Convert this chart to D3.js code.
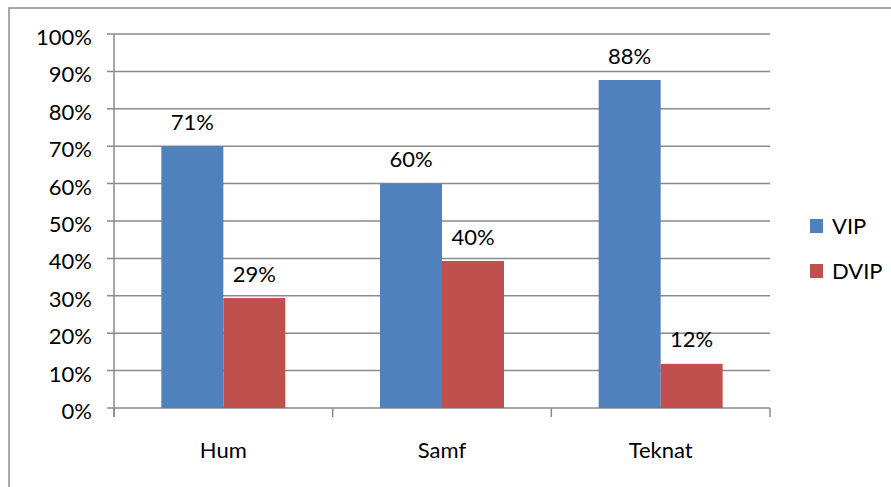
<!DOCTYPE html>
<html><head><meta charset="utf-8">
<script src="https://cdn.jsdelivr.net/npm/d3@7"></script>
<style>body{margin:0;background:#fff}svg{display:block}text{font-family:Lato,"Open Sans",sans-serif;fill:#000}</style>
</head><body><svg id="c" width="891" height="487"></svg>
<script>
const categories = ["Hum", "Samf", "Teknat"];
const seriesNames = ["VIP", "DVIP"];
const vipValues = [0.70, 0.60, 0.877];
const dvipValues = [0.294, 0.393, 0.118];
const vipLabels = ["71%", "60%", "88%"];
const dvipLabels = ["29%", "40%", "12%"];
const yTicks = [0, 0.1, 0.2, 0.3, 0.4, 0.5, 0.6, 0.7, 0.8, 0.9, 1.0];
const colors = ["#4f81bd", "#c0504d"];

(function () {
const svg = d3.select("#c");
const gridColor = "#8a8a8a";
const fs = 22;
svg.append("rect").attr("x", 9).attr("y", 8).attr("width", 900).attr("height", 500)
  .attr("fill", "none").attr("stroke", gridColor).attr("stroke-width", 1.5);

const pl = 114, pr = 770, pt = 34, pb = 408;
const x = d3.scaleBand().domain(categories).range([pl, pr]).paddingInner(0.433).paddingOuter(0.2165);
const x0 = d3.scaleBand().domain(categories).range([pl, pr]);
const xs = d3.scaleBand().domain(seriesNames).range([0, x.bandwidth()]);
const y = d3.scaleLinear().domain([0, 1]).range([pb, pt]);

svg.append("g").selectAll("line").data(yTicks).join("line")
  .attr("x1", pl - 7).attr("x2", pr).attr("y1", d => y(d)).attr("y2", d => y(d))
  .attr("stroke", gridColor).attr("stroke-width", 1.5);

svg.append("g").selectAll("text").data(yTicks).join("text")
  .attr("x", 92).attr("y", d => y(d) + 11).attr("text-anchor", "end")
  .attr("font-size", fs).text(d => d3.format(".0%")(d));

const rows = categories.map((c, i) => ({c, vals: [vipValues[i], dvipValues[i]], labs: [vipLabels[i], dvipLabels[i]]}));
const g = svg.append("g").selectAll("g").data(rows).join("g")
  .attr("transform", d => `translate(${x(d.c)},0)`);
g.selectAll("rect").data(d => d.vals.map((v, j) => ({v, s: seriesNames[j], j}))).join("rect")
  .attr("x", d => xs(d.s)).attr("width", xs.bandwidth())
  .attr("y", d => y(d.v)).attr("height", d => y(0) - y(d.v))
  .attr("fill", d => colors[d.j]);
g.selectAll("text").data(d => d.vals.map((v, j) => ({v, s: seriesNames[j], l: d.labs[j]}))).join("text")
  .attr("x", d => xs(d.s) + xs.bandwidth() / 2).attr("y", d => y(d.v) - 16.5)
  .attr("text-anchor", "middle").attr("font-size", fs).text(d => d.l);

svg.append("line").attr("x1", pl).attr("x2", pl).attr("y1", pt).attr("y2", pb + 9)
  .attr("stroke", gridColor).attr("stroke-width", 1.5);
const xt = [pl, ...categories.map(c => x0(c) + x0.bandwidth())];
svg.append("g").selectAll("line").data(xt).join("line")
  .attr("x1", d => d).attr("x2", d => d).attr("y1", pb).attr("y2", pb + 9)
  .attr("stroke", gridColor).attr("stroke-width", 1.5);
svg.append("g").selectAll("text").data(categories).join("text")
  .attr("x", d => x0(d) + x0.bandwidth() / 2).attr("y", 458).attr("text-anchor", "middle")
  .attr("font-size", fs).text(d => d);

const lg = svg.append("g").selectAll("g").data(seriesNames).join("g")
  .attr("transform", (d, i) => `translate(810,${219 + i * 45})`);
lg.append("rect").attr("width", 13).attr("height", 14).attr("fill", (d, i) => colors[i]);
lg.append("text").attr("x", 22).attr("y", 15).attr("font-size", fs).text(d => d);
})();
</script></body></html>
